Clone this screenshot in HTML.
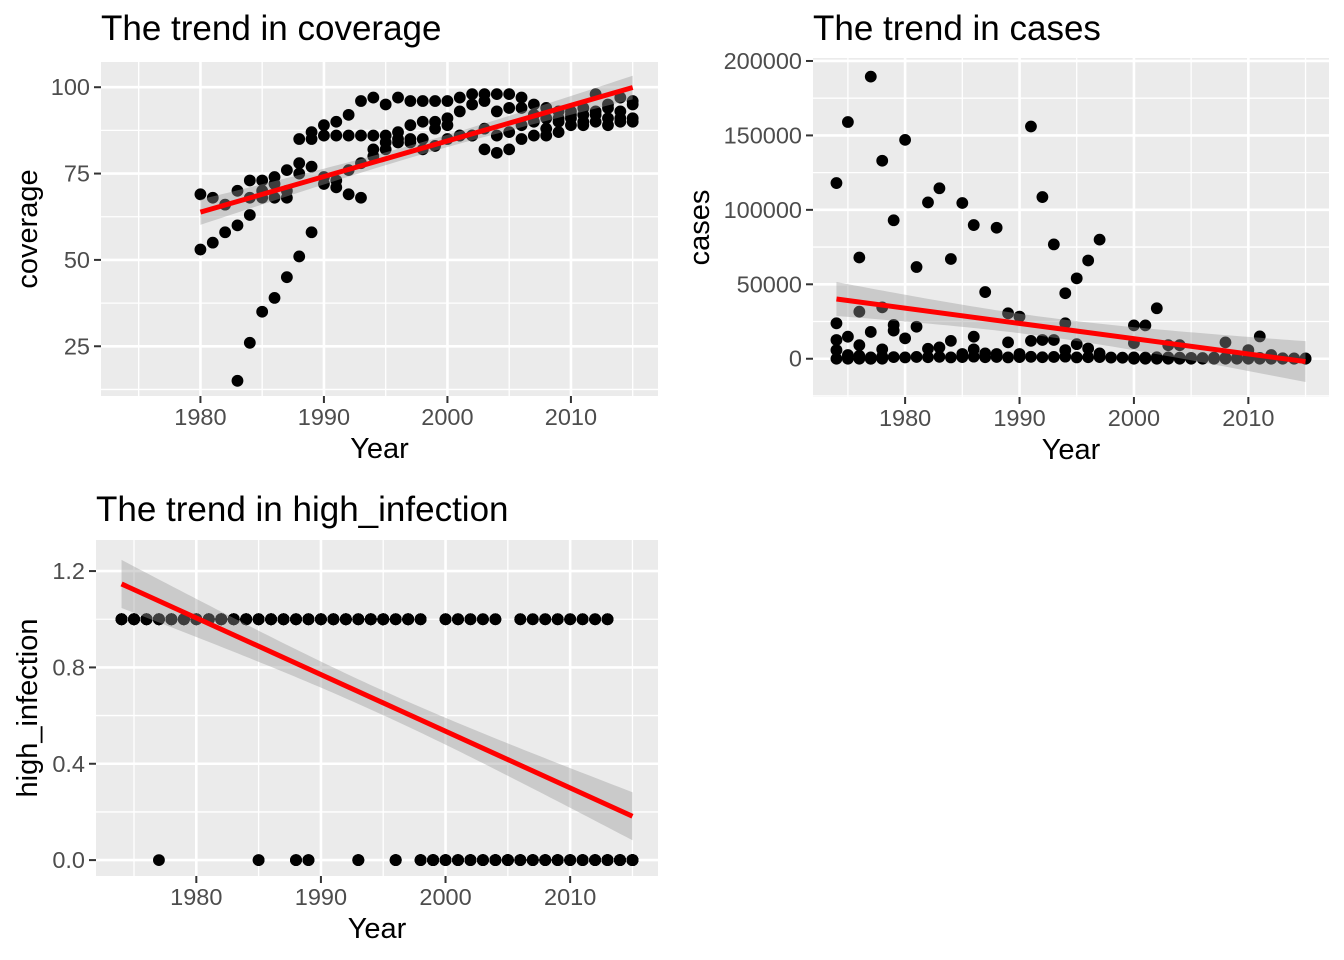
<!DOCTYPE html>
<html><head><meta charset="utf-8"><style>
html,body{margin:0;padding:0;background:#fff}
svg{display:block;font-family:"Liberation Sans",Arial,sans-serif}
</style></head><body>
<svg id="chart" width="1344" height="960" viewBox="0 0 1344 960" xmlns="http://www.w3.org/2000/svg">
<rect width="1344" height="960" fill="#fff"/>
</svg>
<script>
// ---- data: coverage panel ----
const covYears = [1980,1981,1982,1983,1984,1985,1986,1987,1988,1989,1990,1991,1992,1993,1994,1995,1996,1997,1998,1999,2000,2001,2002,2003,2004,2005,2006,2007,2008,2009,2010,2011,2012,2013,2014,2015];
const covS1 = [69,68,66,70,73,73,74,76,85,87,89,90,92,96,97,95,97,96,96,96,96,97,98,98,98,98,97,95,94,93,93,94,98,95,97,96];
const covS2 = [53,55,58,60,63,68,68,68,78,85,86,86,86,86,86,86,87,85,90,90,91,93,95,96,93,94,94,92,91,90,91,92,93,94,93,95];
const covS3 = [null,null,null,15,26,35,39,45,51,58,72,73,69,68,80,82,84,84,82,83,85,86,86,82,81,82,85,86,86,87,89,89,90,89,90,90];
const covS4 = [null,null,null,null,68,70,72,70,75,77,74,71,76,78,82,84,85,89,85,88,89,86,86,88,86,87,89,90,88,91,92,90,92,91,91,91];
const covTicks = [25,50,75,100];
// ---- data: cases panel ----
const casesYears = [1974,1975,1976,1977,1978,1979,1980,1981,1982,1983,1984,1985,1986,1987,1988,1989,1990,1991,1992,1993,1994,1995,1996,1997,1998,1999,2000,2001,2002,2003,2004,2005,2006,2007,2008,2009,2010,2011,2012,2013,2014,2015];
const casesHigh = [118000,159000,68000,189500,133000,93000,147000,61600,105000,114500,67000,104600,89800,44800,88000,30500,28300,156000,108600,76800,44000,54000,66000,80000,null,null,22400,22400,33900,null,null,null,null,null,11000,null,null,15000,null,null,null,null];
const casesMid = [23800,14800,31600,18000,34500,22700,13700,21500,6700,7600,12000,3200,14800,3600,3200,11000,3200,12000,12600,12600,23800,9800,6900,3600,null,null,10500,null,null,9100,9100,null,null,null,null,null,5800,null,2500,null,null,null];
const casesLow = [12600,2500,9100,0,6300,18900,null,null,null,null,null,null,6300,null,null,null,null,null,null,null,5800,null,null,null,null,null,null,null,null,null,null,null,null,null,null,null,null,null,null,null,null,null];
const casesBase = [5800,1200,2000,900,1500,1100,900,1200,1000,1300,900,1100,1400,1000,1200,900,1100,1300,1000,1200,1400,900,1000,1100,800,700,900,800,1000,900,700,600,500,700,600,500,500,600,400,300,200,200];
const casesZero = [0,0,0,0,0,null,null,null,null,null,null,null,null,null,null,null,null,null,null,null,null,null,null,null,null,null,0,0,0,0,0,0,0,0,0,0,0,0,0,0,0,0];
const casesTicks = [0,50000,100000,150000,200000];
// ---- data: high_infection panel (counts of countries per year) ----
const hiYears = casesYears;
const hiOnesCount = [10,10,10,9,10,10,10,10,10,10,10,8,10,10,7,7,10,10,10,6,10,10,5,10,5,0,5,5,4,4,3,0,4,3,4,4,4,4,4,4,0,0];
const hiTotalCount = [10,10,10,10,10,10,10,10,10,10,10,10,10,10,10,10,10,10,10,10,10,10,10,10,10,10,10,10,10,10,10,10,10,10,10,10,10,10,10,10,10,10];
const hiTicks = [0.0,0.4,0.8,1.2];
const hiTickLabels = ["0.0","0.4","0.8","1.2"];
const xTicks = [1980,1990,2000,2010];
const xMinor = [1975,1985,1995,2005,2015];

const hiSeries = [];
for (let k=0;k<10;k++){
  hiSeries.push(hiYears.map((y,i)=> k < hiTotalCount[i] ? (k < hiOnesCount[i] ? 1 : 0) : null));
}

const NS = "http://www.w3.org/2000/svg";
const svg = document.getElementById('chart');
function mk(tag, attrs, parent){
  const e = document.createElementNS(NS, tag);
  for (const k in attrs) e.setAttribute(k, attrs[k]);
  (parent||svg).appendChild(e);
  return e;
}

function drawPanel(c){
  const g = mk('g', {});
  
  
  const sx = v => c.x0 + (v - c.xd[0]) / (c.xd[1] - c.xd[0]) * (c.x1 - c.x0);
  const sy = v => c.y1 - (v - c.yd[0]) / (c.yd[1] - c.yd[0]) * (c.y1 - c.y0);
  const bg = mk('rect', {x:c.x0, y:c.y0, width:c.x1-c.x0, height:c.y1-c.y0, fill:'#ebebeb'}, g);
  
  
  const yMinor = [];
  for (let i=0;i<c.yTicks.length-1;i++) yMinor.push((c.yTicks[i]+c.yTicks[i+1])/2);
  const step = c.yTicks[1]-c.yTicks[0];
  yMinor.push(c.yTicks[0]-step/2, c.yTicks[c.yTicks.length-1]+step/2);
  yMinor.forEach(v=>{ const y=sy(v); if(y>c.y0 && y<c.y1){
    const l = mk('line',{x1:c.x0,x2:c.x1,y1:y,y2:y,stroke:'#fff','stroke-width':1.3},g);
    
    
  }});
  xMinor.forEach(v=>{ const x=sx(v);
    const l = mk('line',{x1:x,x2:x,y1:c.y0,y2:c.y1,stroke:'#fff','stroke-width':1.3},g);
    
    
  });
  c.yTicks.forEach((v,i)=>{ const y=sy(v);
    const l = mk('line',{x1:c.x0,x2:c.x1,y1:y,y2:y,stroke:'#fff','stroke-width':2.6},g);
    
    
    const t = mk('line',{x1:c.x0-7,x2:c.x0,y1:y,y2:y,stroke:'#333','stroke-width':2},g);
    
    
    const tx = mk('text',{x:c.x0-11,y:y+8,'text-anchor':'end','font-size':23.5,fill:'#4d4d4d'},g);
    tx.textContent = c.yLabels ? c.yLabels[i] : String(v);
    
    
  });
  xTicks.forEach(v=>{ const x=sx(v);
    const l = mk('line',{x1:x,x2:x,y1:c.y0,y2:c.y1,stroke:'#fff','stroke-width':2.6},g);
    
    
    const t = mk('line',{x1:x,x2:x,y1:c.y1,y2:c.y1+7,stroke:'#333','stroke-width':2},g);
    
    
    const tx = mk('text',{x:x,y:c.y1+29,'text-anchor':'middle','font-size':23.5,fill:'#4d4d4d'},g);
    tx.textContent = String(v);
    
    
  });
  const xs=[], ys=[];
  c.series.forEach(s=>{ c.years.forEach((yr,i)=>{ const v=s[i]; if(v===null||v===undefined) return;
    xs.push(yr); ys.push(v);
    const p = mk('circle',{cx:sx(yr),cy:sy(v),r:5.9,fill:'#000'},g);
    
    
  });});
  const n=xs.length; const mx=xs.reduce((a,b)=>a+b,0)/n, my=ys.reduce((a,b)=>a+b,0)/n;
  let sxx=0,sxy=0; for(let i=0;i<n;i++){sxx+=(xs[i]-mx)**2; sxy+=(xs[i]-mx)*(ys[i]-my);}
  const b=sxy/sxx, a=my-b*mx;
  let sse=0; for(let i=0;i<n;i++){sse+=(ys[i]-a-b*xs[i])**2;}
  const s=Math.sqrt(sse/(n-2)), tq=1.97*(c.bandScale||1);
  const xmin=Math.min(...xs), xmax=Math.max(...xs);
  const up=[], lo=[];
  for(let k=0;k<=80;k++){ const xv=xmin+(xmax-xmin)*k/80; const f=a+b*xv;
    const se=s*Math.sqrt(1/n+(xv-mx)**2/sxx);
    up.push(sx(xv)+','+sy(f+tq*se)); lo.unshift(sx(xv)+','+sy(f-tq*se)); }
  const band = mk('polygon',{points:up.concat(lo).join(' '),fill:'#999','fill-opacity':0.4},g);
  
  
  const fl = mk('line',{x1:sx(xmin),y1:sy(a+b*xmin),x2:sx(xmax),y2:sy(a+b*xmax),stroke:'#ff0000','stroke-width':5},g);
  
  
  const tt = mk('text',{x:c.x0,y:c.titleY,'font-size':35,fill:'#000'},g);
  tt.textContent = c.title;
  
  
  const xt = mk('text',{x:(c.x0+c.x1)/2,y:c.y1+62,'text-anchor':'middle','font-size':29,fill:'#000'},g);
  xt.textContent = 'Year';
  
  
  const yc=(c.y0+c.y1)/2;
  const yt = mk('text',{x:c.yTitleX,y:yc,'text-anchor':'middle','font-size':29,fill:'#000',transform:'rotate(-90 '+c.yTitleX+' '+yc+')'},g);
  yt.textContent = c.yTitle;
  
  
}

drawPanel({name:'coverage', x0:101, x1:658, y0:62, y1:396, xd:[1971.95,2017.05], yd:[10.6,107.3],
  yTicks:covTicks, years:covYears, series:[covS1,covS2,covS3,covS4],
  title:'The trend in coverage', titleY:40, yTitle:'coverage', yTitleX:37});
drawPanel({name:'cases', x0:813, x1:1329, y0:58, y1:397, xd:[1971.95,2017.05], yd:[-25700,202000],
  yTicks:casesTicks, years:casesYears, series:[casesHigh,casesMid,casesLow,casesBase,casesZero],
  title:'The trend in cases', titleY:40, yTitle:'cases', yTitleX:709});
drawPanel({name:'high-infection', x0:96, x1:658, y0:540, y1:876, xd:[1971.95,2017.05], yd:[-0.066,1.329],
  yTicks:hiTicks, yLabels:hiTickLabels, years:hiYears, series:hiSeries, bandScale:1.4,
  title:'The trend in high_infection', titleY:521, yTitle:'high_infection', yTitleX:37});
</script>
</body></html>
